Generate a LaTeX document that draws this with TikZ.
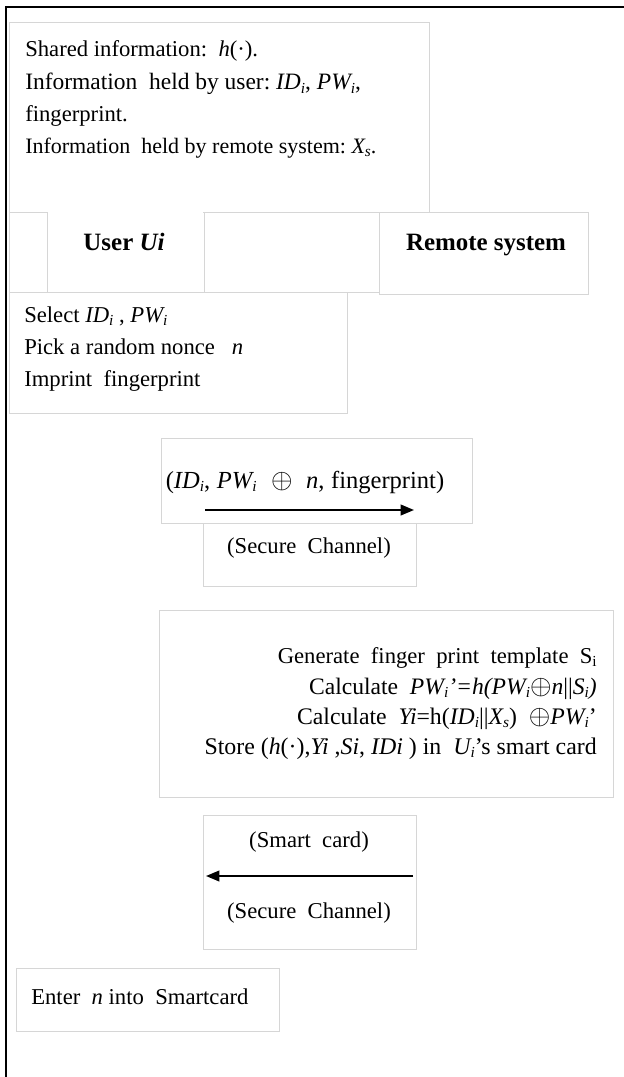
\documentclass[tikz,border=0pt]{standalone}
\usepackage{fontspec}
\setmainfont{Liberation Serif}
\usetikzlibrary{arrows.meta}

% frame box given by its corners (x1,y1) and (x2,y2), in pixel units
\newcommand{\panel}[6][]{%
  \node[panelbox,#1,minimum width={(#5-#3)*0.75pt},minimum height={(#6-#4)*0.75pt}]
    (#2) at (#3,#4) {};}
% subscript sized to the large body text
\newcommand{\sub}[1]{\raisebox{-0.35ex}{\fontsize{11.5}{12}\selectfont #1}}
\newcommand{\xor}{\scalebox{1.2}{$\oplus$}}

\begin{document}
\begin{tikzpicture}[x=0.75pt,y=-0.75pt,
  panelbox/.style={draw=black!16,line width=0.75pt,fill=white,inner sep=0pt,
    outer sep=0pt,anchor=north west},
  cover/.style={fill=white,inner sep=0pt,outer sep=0pt,anchor=north west},
  txt/.style={inner sep=0pt,font=\fontsize{17}{20}\selectfont},
  fs/.style={font=\fontsize{#1}{20}\selectfont},
  hdr/.style={inner sep=0pt,font=\fontsize{18.7}{22}\selectfont\bfseries},
  msg/.style={line width=1.4pt,-{Triangle[length=10pt,width=8pt]}},
  frame/.style={line width=1.4pt,black}]
\useasboundingbox (0,0) rectangle (624,1077);

% outer frame (top and left edges)
\coordinate (fl) at (6,1077);
\coordinate (fc) at (6,7);
\coordinate (fr) at (624,7);
\draw[frame] (fl) -- (fc) -- (fr);

% shared information panel
\panel{info}{9}{23}{429}{212}
\node[txt,anchor=base west] (i1) at (25,57) {Shared information:\ \ \textit{h}(·).};
\node[txt,fs=17.6,anchor=base west] (i2) at (25,90) {Information\ \ held by user:\ \textit{ID\sub{i}},\ \textit{PW\sub{i}},};
\node[txt,anchor=base west] (i3) at (25,122) {fingerprint.};
\node[txt,fs=16.5,anchor=base west] (i4) at (25,153) {Information\ \ held by remote system:\ \textit{X\sub{s}}.};

% header row
\panel{stub}{9}{212}{47}{292}
\panel{gap}{204}{212}{379}{292}
\panel{remote}{379}{212}{588}{294}
\node[cover,minimum width={155.6*0.75pt},minimum height={79*0.75pt}] (usercell) at (47.7,211) {};
\node[hdr,anchor=base] (user) at (124,250) {User \textit{Ui}};
\node[hdr,anchor=base] (rs) at (486,250) {Remote system};

% user side: registration request
\panel{select}{9}{292}{347}{413}
\node[txt,anchor=base west] (s1) at (24,322) {Select \textit{ID\sub{i}} , \textit{PW\sub{i}}};
\node[txt,anchor=base west] (s2) at (24,354) {Pick a random nonce\ \ \ \textit{n}};
\node[txt,anchor=base west] (s3) at (24,386) {Imprint\ \ fingerprint};

% first message
\panel{sendA}{161}{438}{472}{523}
\panel{sendB}{203}{523}{416}{586}
\node[txt,fs=18.4,anchor=base] (m1) at (305,488) {(\textit{ID\sub{i}},\hspace{5pt}\textit{PW\sub{i}}\hspace{11pt}\xor\hspace{10pt}\textit{n},\hspace{5pt}fingerprint)};
\node[txt,anchor=base] (c1) at (309,553) {(Secure\ \ Channel)};
\coordinate (a1s) at (205,510);
\coordinate (a1e) at (414,510);
\draw[msg] (a1s) -- (a1e);

% remote system: registration
\panel{reg}{159}{610}{613}{797}
\node[txt,anchor=base east] (r1) at (597,663) {Generate\ \ finger\ \ print\ \ template\ \ S\sub{i}};
\node[txt,fs=17.7,anchor=base east] (r2) at (597,694) {Calculate\ \ \textit{PW\sub{i}’=h(PW\sub{i}}\xor\textit{n}||\textit{S\sub{i})}};
\node[txt,fs=17.8,anchor=base east] (r3) at (597,724) {Calculate\ \ \textit{Yi}=h(\textit{ID\sub{i}}||\textit{X\sub{s}})\ \ \xor\textit{PW\sub{i}}’};
\node[txt,fs=17.9,anchor=base east] (r4) at (597,754) {Store (\textit{h}(·),\textit{Yi} ,\textit{Si}, \textit{IDi} ) in\ \ \textit{U\sub{i}}’s smart card};

% second message
\panel{card}{203}{815}{416}{949}
\node[txt,anchor=base] (m2) at (309,847) {(Smart\ \ card)};
\node[txt,anchor=base] (c2) at (309,918) {(Secure\ \ Channel)};
\coordinate (a2s) at (413,876);
\coordinate (a2e) at (206,876);
\draw[msg] (a2s) -- (a2e);

% user side: final step
\panel{enter}{16}{968}{279}{1031}
\node[txt,anchor=base west] (e1) at (31,1004) {Enter\ \ \textit{n} into\ \ Smartcard};
\end{tikzpicture}
\end{document}
